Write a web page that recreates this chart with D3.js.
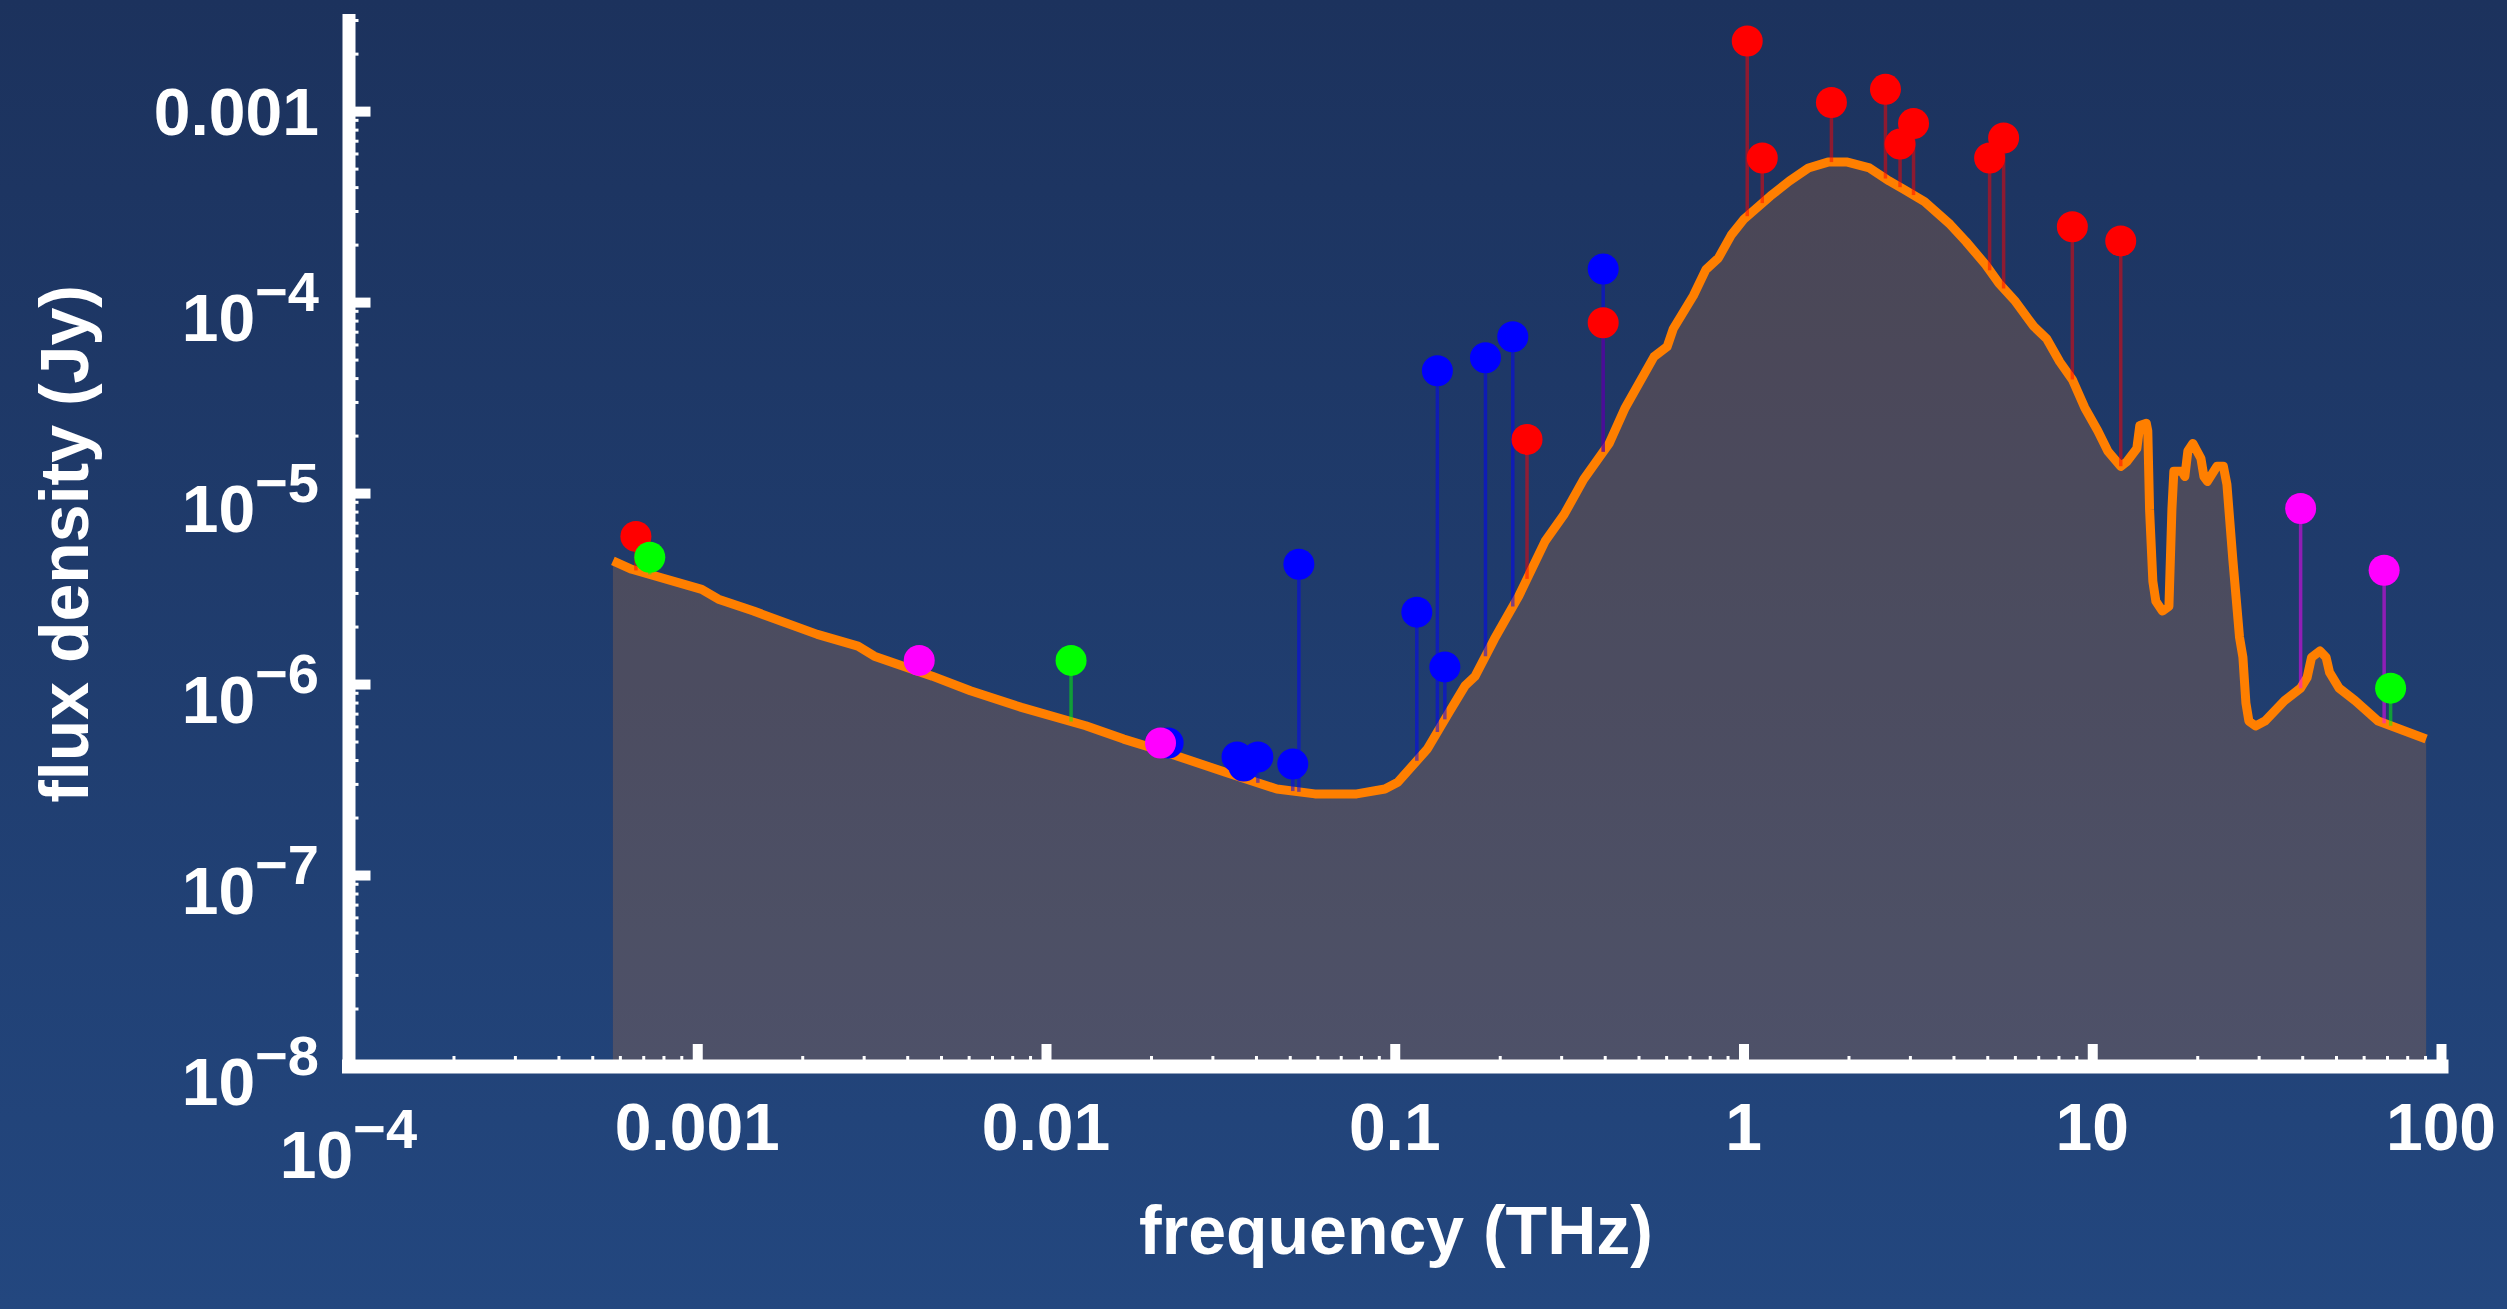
<!DOCTYPE html>
<html>
<head>
<meta charset="utf-8">
<script src="https://cdn.jsdelivr.net/npm/d3@7"></script>
<style>
  body { margin: 0; background: #1f3c6e; }
  svg { display: block; font-family: "Liberation Sans", Arial, Helvetica, sans-serif; font-weight: bold; }
</style>
</head>
<body>
<div id="chart"></div>
<script>
// model SED curve (THz, Jy)
const curveFreq = [0.000573, 0.000649, 0.00103, 0.00115, 0.00145, 0.00221, 0.00289, 0.00322, 0.00472, 0.00607,
  0.0085, 0.013, 0.0167, 0.0214, 0.0327, 0.0459, 0.059, 0.0778, 0.0937, 0.102,
  0.124, 0.143, 0.159, 0.170, 0.193, 0.227, 0.270, 0.306, 0.348, 0.412,
  0.458, 0.554, 0.604, 0.629, 0.718, 0.780, 0.847, 0.923, 1.005, 1.194,
  1.354, 1.535, 1.746, 1.986, 2.297, 2.615, 2.907, 3.304, 3.914, 4.350,
  4.945, 5.390, 5.990, 6.792, 7.402, 8.067, 8.768, 9.517, 10.37, 11.08,
  12.07, 12.56, 13.42, 13.69, 14.29, 14.43, 14.60, 14.92, 15.22, 15.89,
  16.59, 16.92, 17.14, 18.07, 18.43, 18.80, 19.43, 20.49, 20.90, 21.39,
  22.77, 23.77, 24.33, 25.31, 26.44, 27.04, 27.58, 28.13, 29.39, 31.28,
  35.59, 39.58, 41.30, 42.55, 45.01, 46.82, 47.92, 51.03, 56.72, 66.03, 90.66];
const curveFlux = [4.41e-6, 3.99e-6, 3.13e-6, 2.78e-6, 2.41e-6, 1.82e-6, 1.58e-6, 1.40e-6, 1.10e-6, 9.22e-7,
  7.55e-7, 6.05e-7, 5.15e-7, 4.48e-7, 3.45e-7, 2.82e-7, 2.66e-7, 2.66e-7, 2.82e-7, 3.06e-7,
  4.57e-7, 7.10e-7, 9.79e-7, 1.10e-6, 1.72e-6, 2.9e-6, 5.6e-6, 7.73e-6, 1.18e-5, 1.82e-5,
  2.80e-5, 5.18e-5, 5.84e-5, 7.25e-5, 1.08e-4, 1.48e-4, 1.70e-4, 2.25e-4, 2.73e-4, 3.59e-4,
  4.31e-4, 5.04e-4, 5.41e-4, 5.41e-4, 5.04e-4, 4.31e-4, 3.86e-4, 3.36e-4, 2.55e-4, 2.07e-4,
  1.57e-4, 1.26e-4, 1.02e-4, 7.47e-5, 6.43e-5, 4.87e-5, 3.93e-5, 2.80e-5, 2.12e-5, 1.66e-5,
  1.38e-5, 1.46e-5, 1.71e-5, 2.26e-5, 2.32e-5, 2.12e-5, 8.21e-6, 3.45e-6, 2.71e-6, 2.41e-6,
  2.55e-6, 8.21e-6, 1.30e-5, 1.30e-5, 1.22e-5, 1.66e-5, 1.82e-5, 1.52e-5, 1.22e-5, 1.15e-5,
  1.38e-5, 1.38e-5, 1.11e-5, 4.44e-6, 1.76e-6, 1.38e-6, 7.95e-7, 6.40e-7, 6.03e-7, 6.40e-7,
  8.19e-7, 9.52e-7, 1.08e-6, 1.38e-6, 1.49e-6, 1.38e-6, 1.15e-6, 9.52e-7, 8.19e-7, 6.40e-7, 5.15e-7];

// measured points
const redFreq = [0.000667, 1.025, 1.132, 1.787, 2.553, 3.073, 2.811, 5.078, 5.570, 8.768, 12.07, 0.396, 0.2395];
const redFlux = [5.93e-6, 2.33e-3, 5.68e-4, 1.11e-3, 1.30e-3, 8.61e-4, 6.72e-4, 5.68e-4, 7.23e-4, 2.48e-4, 2.09e-4, 7.80e-5, 1.91e-5];
const blueFreq = [0.396, 0.218, 0.182, 0.1325, 0.1157, 0.1392, 0.0531, 0.051, 0.0353, 0.0405, 0.0369, 0.0224];
const blueFlux = [1.49e-4, 6.59e-5, 5.11e-5, 4.37e-5, 2.38e-6, 1.23e-6, 4.24e-6, 3.81e-7, 4.15e-7, 4.15e-7, 3.72e-7, 4.91e-7];
const magentaFreq = [0.00433, 0.0213, 39.58, 68.7];
const magentaFlux = [1.33e-6, 4.91e-7, 8.31e-6, 3.94e-6];
const greenFreq = [0.000731, 0.0118, 71.7];
const greenFlux = [4.61e-6, 1.33e-6, 9.52e-7];

const xTickValues = [1e-4, 1e-3, 1e-2, 0.1, 1, 10, 100];
const xTickBase = ["10", "0.001", "0.01", "0.1", "1", "10", "100"];
const xTickExp = ["\u22124", "", "", "", "", "", ""];
const yTickValues = [1e-8, 1e-7, 1e-6, 1e-5, 1e-4, 1e-3];
const yTickBase = ["10", "10", "10", "10", "10", "0.001"];
const yTickExp = ["\u22128", "\u22127", "\u22126", "\u22125", "\u22124", ""];

const width = 2507, height = 1309;

const svg = d3.select("#chart").append("svg")
  .attr("width", width)
  .attr("height", height);

const grad = svg.append("defs").append("linearGradient")
  .attr("id", "bg").attr("x1", 0).attr("y1", 0).attr("x2", 0).attr("y2", 1);
grad.append("stop").attr("offset", "0%").attr("stop-color", "#1c325d");
grad.append("stop").attr("offset", "100%").attr("stop-color", "#23477f");
svg.append("rect").attr("width", width).attr("height", height).attr("fill", "url(#bg)");

const x = d3.scaleLog().domain([1e-4, 100]).range([348.5, 2441]);
const y = d3.scaleLog().domain([1e-8, 3e-3]).range([1066, 20]);

const curve = curveFreq.map((f, i) => ({f: f, v: curveFlux[i]}));

// model value at a frequency (log-log between curve points)
function modelAt(f) {
  let i = d3.bisectLeft(curveFreq, f);
  i = Math.max(1, Math.min(curveFreq.length - 1, i));
  const t = Math.log(f / curveFreq[i - 1]) / Math.log(curveFreq[i] / curveFreq[i - 1]);
  const a = Math.log(curveFlux[i - 1]), b = Math.log(curveFlux[i]);
  return Math.exp(a + t * (b - a));
}

svg.append("path")
  .datum(curve)
  .attr("d", d3.area().x(d => x(d.f)).y0(y(1e-8)).y1(d => y(d.v)))
  .attr("fill", "rgb(255,140,40)")
  .attr("fill-opacity", 0.2);

svg.append("path")
  .datum(curve)
  .attr("d", d3.line().x(d => x(d.f)).y(d => y(d.v)))
  .attr("fill", "none")
  .attr("stroke", "#ff7f00")
  .attr("stroke-width", 9)
  .attr("stroke-linejoin", "round");

const series = [
  {color: "#ff0000", freq: redFreq, flux: redFlux},
  {color: "#0000ff", freq: blueFreq, flux: blueFlux},
  {color: "#ff00ff", freq: magentaFreq, flux: magentaFlux},
  {color: "#00ff00", freq: greenFreq, flux: greenFlux}
];
const points = series.flatMap(s => s.freq.map((f, i) => ({f: f, v: s.flux[i], color: s.color})));

svg.append("g")
  .selectAll("line")
  .data(points)
  .join("line")
    .attr("x1", d => x(d.f))
    .attr("x2", d => x(d.f))
    .attr("y1", d => y(d.v))
    .attr("y2", d => y(modelAt(d.f)))
    .attr("stroke", d => d.color)
    .attr("stroke-opacity", 0.5)
    .attr("stroke-width", 3.5);

svg.append("g")
  .selectAll("circle")
  .data(points)
  .join("circle")
    .attr("cx", d => x(d.f))
    .attr("cy", d => y(d.v))
    .attr("r", 15.5)
    .attr("fill", d => d.color);

// axes
const minorX = x.ticks().filter(v => !xTickValues.some(t => Math.abs(t / v - 1) < 1e-6));
const minorY = y.ticks().filter(v => !yTickValues.some(t => Math.abs(t / v - 1) < 1e-6));

const xg = svg.append("g").attr("transform", `translate(0,${y(1e-8)})`);
xg.append("g")
  .call(d3.axisBottom(x).tickValues(minorX).tickSize(-10).tickFormat(""))
  .call(g => g.select(".domain").remove())
  .call(g => g.selectAll("line").attr("stroke", "white").attr("stroke-width", 3));
xg.append("g")
  .call(d3.axisBottom(x).tickValues(xTickValues).tickSize(-22).tickSizeOuter(0).tickFormat(""))
  .call(g => g.select(".domain").attr("stroke", "white").attr("stroke-width", 14).attr("stroke-linecap", "square"))
  .call(g => g.selectAll("line").attr("stroke", "white").attr("stroke-width", 10));

const yg = svg.append("g").attr("transform", `translate(${x(1e-4)},0)`);
yg.append("g")
  .call(d3.axisLeft(y).tickValues(minorY).tickSize(-10).tickFormat(""))
  .call(g => g.select(".domain").remove())
  .call(g => g.selectAll("line").attr("stroke", "white").attr("stroke-width", 3));
yg.append("g")
  .call(d3.axisLeft(y).tickValues(yTickValues).tickSize(-22).tickSizeOuter(0).tickFormat(""))
  .call(g => g.select(".domain").attr("stroke", "white").attr("stroke-width", 13).attr("stroke-linecap", "square"))
  .call(g => g.selectAll("line").attr("stroke", "white").attr("stroke-width", 10));

// tick labels
const xLabels = svg.append("g")
  .selectAll("text")
  .data(xTickValues)
  .join("text")
    .attr("x", d => x(d))
    .attr("y", (d, i) => xTickExp[i] ? 1178 : 1150)
    .attr("text-anchor", "middle")
    .attr("fill", "white")
    .style("font-size", "66px");
xLabels.append("tspan").text((d, i) => xTickBase[i]);
xLabels.append("tspan").attr("dy", -30).style("font-size", "56px").text((d, i) => xTickExp[i]);

const yLabels = svg.append("g")
  .selectAll("text")
  .data(yTickValues)
  .join("text")
    .attr("x", 319)
    .attr("y", (d, i) => y(d) + (yTickExp[i] ? 39 : 24))
    .attr("text-anchor", "end")
    .attr("fill", "white")
    .style("font-size", "66px");
yLabels.append("tspan").text((d, i) => yTickBase[i]);
yLabels.append("tspan").attr("dy", -30).style("font-size", "56px").text((d, i) => yTickExp[i]);

// axis titles
svg.append("text")
  .attr("x", 1396)
  .attr("y", 1254)
  .attr("text-anchor", "middle")
  .attr("fill", "white")
  .style("font-size", "68px")
  .text("frequency (THz)");

svg.append("text")
  .attr("transform", "translate(88,544) rotate(-90)")
  .attr("text-anchor", "middle")
  .attr("fill", "white")
  .style("font-size", "68px")
  .text("flux density (Jy)");
</script>
</body>
</html>
